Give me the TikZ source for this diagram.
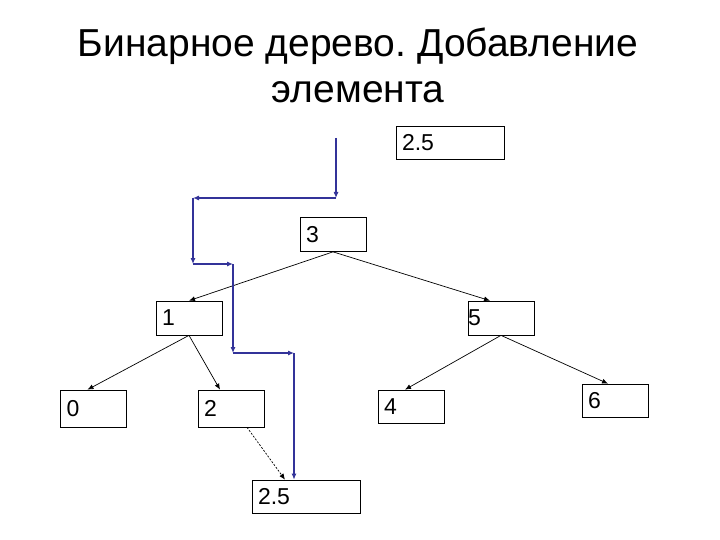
\documentclass[tikz,border=0pt]{standalone}
\usepackage{fontspec}
\setmainfont{Liberation Sans}
\usetikzlibrary{arrows.meta}
\frenchspacing

\definecolor{routeblue}{HTML}{333399}

\tikzset{
  elem/.style={draw, line width=0.7, minimum height=34, text width=54, inner xsep=6,
    inner ysep=0, align=left, font=\fontsize{23}{23}\selectfont},
  elemwide/.style={elem, text width=96},
  link/.style={line width=0.7, -{Latex[length=6,width=5]}},
  route/.style={line width=1.1, routeblue, -{Latex[length=6,width=5]}}
}

\begin{document}
\begin{tikzpicture}[x=1pt,y=-1pt]
\useasboundingbox (0,0) rectangle (720,540);

% Title
\node[anchor=base, font=\fontsize{39}{39}\selectfont] (title1) at (358,57) {Бинарное дерево. Добавление};
\node[anchor=base, font=\fontsize{39}{39}\selectfont] (title2) at (358,103) {элемента};

% New element
\node[elemwide, minimum height=33] (new) at (450,142.5) {2.5};

% The tree
\node[elem] (n3) at (333,234.5) {3};
\node[elem] (n1) at (189,318) {1};
\node[elem, inner xsep=0, text width=66] (n5) at (501,318) {5};
\node[elem, minimum height=37] (n0) at (93.5,408.5) {0};
\node[elem, minimum height=37] (n2) at (231,408.5) {2};
\node[elem, minimum height=33] (n4) at (411,406.5) {4};
\node[elem, minimum height=33] (n6) at (615,400.5) {6};

% Inserted element
\node[elemwide, minimum height=33] (ins) at (306,496.5) {2.5};

% Links
\draw[link] (n3.south) -- (n1.north);
\draw[link] (n3.south) -- ([xshift=-11]n5.north);
\draw[link] (n1.south) -- ([xshift=-6]n0.north);
\draw[link] (n1.south) -- ([xshift=-11]n2.north);
\draw[link] (n5.south) -- ([xshift=-6]n4.north);
\draw[link] (n5.south) -- ([xshift=-7]n6.north);
\draw[link, dash pattern=on 2pt off 1.5pt] ([xshift=16]n2.south) -- ([xshift=-21]ins.north);

% Search route
\coordinate (r0) at (336,138);
\coordinate (r1) at (336,198);
\coordinate (r2) at (193,198);
\coordinate (r3) at (193,264);
\coordinate (r4) at (233,264);
\coordinate (r5) at (233,353);
\coordinate (r6) at (294,353);
\coordinate (r7) at ([xshift=-12]ins.north);
\foreach \a/\b in {r0/r1,r1/r2,r2/r3,r3/r4,r4/r5,r5/r6,r6/r7}
  \draw[route] (\a) -- (\b);

\end{tikzpicture}
\end{document}
